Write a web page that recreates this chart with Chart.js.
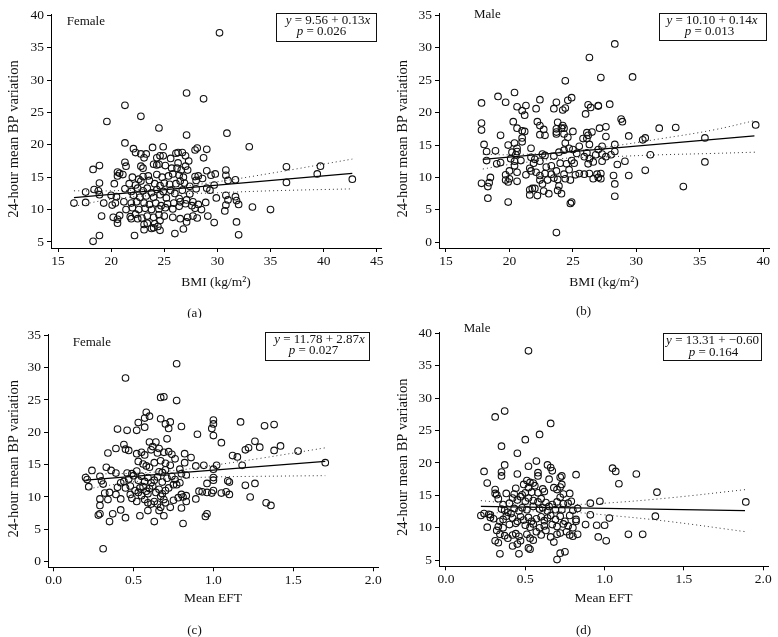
<!DOCTYPE html>
<html>
<head>
<meta charset="utf-8">
<script src="https://cdn.jsdelivr.net/npm/chart.js"></script>
<style>
  body { margin: 0; background: #fff; }
  #wrap { position: relative; width: 778px; height: 637px; }
  canvas { position: absolute; }
</style>
</head>
<body>
<div id="wrap">
  <canvas id="chartA" width="389" height="318" style="left:0;top:0"></canvas>
  <canvas id="chartB" width="389" height="318" style="left:389px;top:0"></canvas>
  <canvas id="chartC" width="389" height="319" style="left:0;top:318px"></canvas>
  <canvas id="chartD" width="389" height="319" style="left:389px;top:318px"></canvas>
</div>
<script>
// 축 눈금
const bmiTicksA = [15, 20, 25, 30, 35, 40, 45];
const bmiTicksB = [15, 20, 25, 30, 35, 40];
const eftTicks = [0, 0.5, 1.0, 1.5, 2.0];
const bpTicks5to40 = [5, 10, 15, 20, 25, 30, 35, 40];
const bpTicks0to35 = [0, 5, 10, 15, 20, 25, 30, 35];

// (a) Female, BMI
const femaleBmiPoints = [
  [30.2,37.3],[27.1,28.0],[28.7,27.1],[21.3,26.1],[22.8,24.4],[19.6,23.6],[24.5,22.6],[27.1,21.5],[30.9,21.8],[21.3,20.3],
  [33.0,19.7],[24.9,19.7],[23.9,19.6],[22.1,19.4],[28.1,19.5],[29.0,19.3],[27.9,19.2],
  [22.3,18.8],[22.8,18.6],[23.3,18.6],[23.1,18.0],[24.3,18.0],[24.6,18.3],[24.9,18.3],[26.1,18.7],[26.3,18.8],[26.7,18.8],
  [27.0,18.3],[28.7,18.0],[25.6,17.9],[26.3,17.2],[27.3,17.5],
  [21.3,17.3],[21.4,16.7],[18.3,16.2],[18.9,16.8],[22.8,16.7],[23.0,16.4],[24.0,17.0],[24.3,16.9],[24.5,17.0],[25.1,16.8],
  [25.7,16.4],[26.2,16.4],[26.6,16.1],[27.0,16.7],[27.2,16.1],[29.0,16.0],[30.8,16.1],[36.5,16.6],[39.7,16.7],
  [20.6,15.8],[20.8,15.6],[21.1,15.4],[20.6,15.2],[22.0,15.0],[22.6,14.7],[23.0,15.1],[23.5,15.2],[24.3,15.4],[24.8,15.0],
  [25.4,15.2],[25.8,15.5],[26.4,15.3],[26.8,15.0],[27.9,15.1],[28.2,15.2],[28.6,14.8],[29.4,15.3],[29.8,15.5],[30.8,15.3],
  [31.0,14.5],[31.7,14.6],[36.5,14.2],[39.4,15.5],[42.7,14.7],[28.0,14.5],
  [18.9,14.1],[20.3,14.0],[21.7,14.0],[22.3,13.8],[22.8,14.4],[23.6,14.5],[24.1,14.0],[24.6,13.7],[25.0,14.1],[25.5,13.9],
  [26.1,14.0],[26.5,14.4],[26.9,14.1],[27.4,13.6],[28.0,13.2],[29.0,13.3],[29.3,13.0],[29.7,13.8],[18.4,13.1],[18.8,12.9],
  [17.6,12.7],[20.0,12.2],[21.3,13.2],[21.9,12.8],[22.5,13.3],[23.0,12.9],[23.4,13.3],[23.8,12.6],[24.3,13.1],[24.9,12.8],
  [25.6,13.0],[26.0,12.5],[26.7,13.0],[27.4,12.4],[18.9,12.3],[20.5,12.0],[22.1,12.2],[22.7,11.9],[23.3,12.1],[24.0,11.9],
  [24.6,12.3],[25.2,11.8],[26.4,11.7],[27.1,11.5],[27.7,11.2],[30.8,12.2],[31.7,12.0],[31.8,11.4],[31.0,11.5],[29.9,11.8],
  [16.5,11.0],[17.6,11.1],[19.3,11.0],[20.4,11.0],[21.2,11.2],[21.9,11.0],[22.4,11.2],[23.1,11.0],[23.6,10.8],[24.2,11.0],
  [24.7,10.6],[25.3,10.9],[25.9,11.0],[26.5,11.2],[27.0,10.9],[27.6,10.6],[28.2,10.8],[28.9,11.1],[30.8,10.7],[32.0,10.8],
  [33.3,10.4],[35.0,10.0],[21.4,10.0],[22.0,10.3],[22.6,10.0],[23.2,10.2],[23.8,10.0],[24.5,10.1],[25.1,10.3],[25.8,10.1],
  [26.4,10.5],[27.9,10.2],[28.5,10.0],[30.7,9.8],[20.1,10.7],
  [19.1,9.0],[20.2,8.8],[20.8,9.1],[21.8,8.9],[22.3,9.3],[22.9,8.7],[23.4,9.0],[24.0,8.8],[24.5,9.2],[25.0,9.0],
  [25.8,8.8],[26.5,8.6],[27.2,8.8],[27.7,9.0],[28.1,8.7],[29.1,9.0],[20.6,8.5],[22.5,8.6],[24.6,8.3],[21.9,8.6],
  [20.6,7.9],[23.4,7.9],[23.1,7.7],[24.1,7.8],[24.4,7.4],[24.0,7.2],[24.6,6.8],[23.1,6.9],[26.8,7.0],[27.1,8.1],
  [29.7,8.0],[31.8,8.1],[22.2,6.0],[26.0,6.3],[32.0,6.1],[18.9,6.0],[18.3,5.1],[23.8,7.1]
];
const femaleBmiFitX = [16.5, 42.7];
const femaleBmiFitY = [11.85, 15.6];
const femaleBmiBandX = [16.5, 20, 25, 30, 35, 42.7];
const femaleBmiUpper = [12.9, 12.9, 13.3, 14.3, 15.6, 17.8];
const femaleBmiLower = [10.5, 11.6, 12.3, 12.6, 12.9, 13.2];

// (b) Male, BMI
const maleBmiPoints = [
  [28.3,30.6],[26.3,28.5],[27.2,25.4],[29.7,25.5],[24.4,24.9],[20.4,23.1],[19.1,22.5],[22.4,22.0],[24.9,22.3],[24.6,21.9],
  [23.7,21.6],[19.7,21.6],[17.8,21.5],[26.2,21.2],[27.0,21.1],[27.0,21.0],[27.9,21.3],[21.3,21.1],[20.6,20.9],[22.1,20.6],
  [23.5,20.6],[24.2,20.4],[24.4,20.7],[26.4,20.8],[21.0,20.3],[21.2,19.6],[26.0,19.8],
  [17.8,18.4],[17.8,17.3],[20.3,18.6],[22.2,18.6],[22.4,18.0],[23.8,18.5],[24.2,18.0],[24.1,17.6],[24.3,17.6],[20.6,17.6],
  [21.0,17.2],[21.2,17.1],[22.7,17.4],[23.7,17.5],[23.7,17.0],[25.0,17.1],[26.1,16.9],[26.5,17.0],[27.1,17.6],[27.6,17.8],
  [28.8,19.0],[28.9,18.6],[31.8,17.6],[33.1,17.7],[39.4,18.1],
  [19.3,16.5],[21.0,16.1],[22.4,16.6],[22.8,16.5],[23.7,16.7],[24.3,16.7],[24.6,16.2],[25.8,16.0],[26.1,16.0],[26.2,16.5],
  [27.6,16.3],[29.4,16.4],[30.5,15.8],[30.7,16.1],[35.4,16.1],[18.0,15.1],[19.9,15.0],[20.4,15.3],[21.0,15.5],[24.4,15.3],
  [25.5,14.8],[26.3,15.1],[27.3,14.8],[28.3,15.1],[20.6,14.5],[21.7,14.5],
  [18.2,14.0],[18.9,14.1],[20.2,13.9],[20.6,14.0],[20.5,13.5],[21.7,13.1],[22.0,12.8],[22.6,13.6],[22.8,13.4],[23.5,13.3],
  [23.9,13.9],[24.3,14.2],[24.7,14.5],[25.0,14.3],[25.3,13.7],[25.9,13.2],[26.1,13.8],[26.3,12.9],[26.8,13.5],[27.0,14.3],
  [27.3,13.6],[27.6,13.2],[28.0,13.5],[28.3,14.0],[18.2,12.6],[19.0,12.1],[19.3,12.3],[20.1,12.9],[20.4,12.5],[20.9,12.6],
  [21.9,12.2],[22.4,12.5],[22.9,11.6],[23.3,11.8],[24.0,12.2],[24.5,12.1],[24.9,12.6],[25.1,12.2],[26.2,12.1],[26.6,12.4],
  [27.3,12.5],[28.5,12.0],[29.1,12.5],[31.1,13.5],[35.4,12.4],[20.4,11.8],[21.6,11.4],
  [20.0,11.0],[20.6,10.8],[21.3,10.4],[21.7,11.0],[22.1,10.8],[22.4,10.3],[22.8,10.6],[23.3,10.5],[23.7,11.0],[24.3,10.5],
  [24.7,11.2],[25.2,10.4],[25.5,10.6],[25.9,10.5],[26.3,10.6],[26.9,10.5],[27.0,10.0],[27.2,10.6],[28.2,10.3],[29.4,10.3],
  [30.7,11.1],[19.7,10.4],[19.7,9.6],[20.0,9.8],[18.5,10.0],[19.9,9.3],[20.6,9.4],
  [17.8,9.1],[18.4,9.2],[18.3,8.6],[21.8,8.3],[22.4,9.6],[22.6,9.0],[23.0,9.6],[23.5,9.9],[23.8,9.7],[24.4,9.8],
  [24.8,9.6],[26.6,9.8],[27.2,9.8],[28.3,9.0],[21.6,8.1],[22.0,8.3],[22.7,7.9],[23.1,7.5],[23.8,8.0],[24.1,7.5],
  [23.9,8.7],[28.3,7.1],[33.7,8.6],[21.6,7.3],[22.2,7.2],[18.3,6.8],[19.9,6.2],[24.8,6.0],[24.9,6.2],[23.7,1.5]
];
const maleBmiFitX = [17.9, 39.3];
const maleBmiFitY = [12.8, 16.4];
const maleBmiBandX = [17.9, 20, 24, 28, 32, 36, 39.4];
const maleBmiUpper = [13.6, 13.5, 13.9, 14.8, 16.0, 17.3, 18.8];
const maleBmiLower = [11.3, 12.0, 12.9, 13.2, 13.5, 13.7, 13.9];

// (c) Female, EFT
const femaleEftPoints = [
  [0.77,30.6],[0.45,28.4],[0.67,25.4],[0.69,25.5],[0.77,24.9],[0.58,23.1],[0.57,22.2],[0.60,22.5],[0.67,22.1],[0.73,21.6],
  [0.70,21.3],[0.53,21.5],[0.57,20.8],[0.72,20.6],[0.80,20.9],[0.99,20.6],[1.00,21.9],[1.00,21.3],[1.17,21.6],[1.32,21.0],
  [1.38,21.2],[0.40,20.5],[0.46,20.3],[0.52,20.3],[0.90,19.7],[1.00,19.5],
  [0.44,18.1],[0.45,17.4],[0.47,17.2],[0.39,17.5],[0.60,18.5],[0.62,17.8],[0.64,18.5],[0.66,17.5],[0.61,17.3],[0.69,16.9],
  [0.71,19.0],[0.72,17.0],[0.74,16.6],[0.76,15.9],[0.82,16.7],[0.86,16.1],[1.05,18.4],[1.20,17.3],[1.22,17.6],[1.26,18.6],
  [1.29,17.7],[1.38,17.2],[1.42,17.9],[1.53,17.1],[1.12,16.4],[1.15,16.2],[0.34,16.8],[0.52,16.7],[0.55,16.9],[0.57,16.5],
  [0.65,16.8],
  [0.53,15.5],[0.56,15.1],[0.60,14.6],[0.63,15.3],[0.67,15.6],[0.70,15.2],[0.73,14.9],[0.79,14.3],[0.82,15.3],[0.89,14.8],
  [0.94,14.9],[1.00,14.3],[1.02,14.9],[1.18,14.9],[1.70,15.3],[0.33,14.6],[0.24,14.1],[0.36,14.1],[0.39,13.7],[0.46,13.7],
  [0.49,13.6],[0.52,14.0],[0.58,14.8],[0.66,13.9],[0.68,13.8],[0.70,14.2],
  [0.20,13.0],[0.21,12.7],[0.29,13.2],[0.30,12.5],[0.31,12.0],[0.22,11.6],[0.42,12.2],[0.44,12.4],[0.47,12.8],[0.50,13.3],
  [0.53,12.6],[0.55,13.2],[0.57,12.4],[0.59,13.0],[0.61,12.2],[0.63,12.6],[0.65,13.1],[0.68,12.3],[0.71,12.9],[0.74,13.2],
  [0.76,12.7],[0.80,13.6],[0.83,13.4],[0.96,12.1],[1.00,13.0],[1.00,12.6],[1.09,12.5],[1.10,12.3],[1.26,12.1],[0.79,12.2],
  [0.75,11.9],
  [0.40,11.5],[0.45,11.4],[0.48,11.7],[0.51,11.0],[0.54,11.4],[0.56,11.6],[0.58,10.9],[0.60,11.3],[0.62,11.7],[0.64,10.7],
  [0.66,11.2],[0.68,10.5],[0.70,11.0],[0.72,11.4],[0.77,11.9],[0.80,10.4],[0.83,10.2],[0.91,10.9],[0.93,10.8],[0.96,10.7],
  [0.99,10.6],[1.00,11.0],[1.05,10.6],[1.08,10.8],[1.10,10.4],[1.20,11.8],[0.32,10.6],[0.35,10.7],[0.39,10.4],[0.48,10.4],
  [0.53,10.7],[0.55,10.2],[0.59,10.5],
  [0.29,9.7],[0.34,9.6],[0.42,9.7],[0.49,9.8],[0.52,9.3],[0.57,9.6],[0.59,9.1],[0.63,9.3],[0.65,8.9],[0.67,10.1],
  [0.69,9.6],[0.70,9.1],[0.75,9.5],[0.78,9.9],[0.81,10.0],[0.83,9.3],[0.89,9.7],[1.23,10.0],[0.29,8.7],[0.61,8.9],
  [0.67,8.4],[0.73,8.4],[0.80,8.3],[0.66,7.9],[0.59,7.9],[0.42,8.0],
  [0.28,7.2],[0.29,7.4],[0.37,7.4],[0.45,6.8],[0.54,7.1],[0.69,7.1],[0.35,6.2],[0.63,6.2],[0.81,5.9],[0.95,7.0],
  [0.96,7.4],[1.33,9.1],[1.36,8.7],[0.31,2.0]
];
const femaleEftFitX = [0.2, 1.7];
const femaleEftFitY = [12.6, 15.5];
const femaleEftBandX = [0.2, 0.4, 0.6, 0.8, 1.0, 1.3, 1.7];
const femaleEftUpper = [13.6, 13.6, 13.8, 14.2, 14.9, 16.0, 17.6];
const femaleEftLower = [11.2, 12.0, 12.6, 12.9, 13.1, 13.2, 13.3];

// (d) Male, EFT
const maleEftPoints = [
  [0.52,37.3],[0.37,28.0],[0.31,27.1],[0.66,26.1],[0.59,24.4],[0.50,23.6],[0.35,22.6],[0.45,21.5],[0.37,19.7],[0.52,19.5],
  [0.24,18.7],[0.35,18.6],[0.35,18.0],[0.45,18.3],[0.57,20.3],[0.58,18.5],[0.58,18.0],[0.64,19.7],[0.66,19.3],[0.67,18.8],
  [0.73,18.0],[0.72,17.8],[0.82,18.2],[1.05,19.2],[1.07,18.7],[1.20,18.3],[1.09,16.8],[1.33,15.5],[1.89,14.0],[0.26,16.9],
  [0.31,15.9],[0.31,15.3],[0.32,15.1],[0.38,15.3],[0.43,15.2],[0.44,16.1],[0.48,15.1],[0.50,15.4],[0.51,17.3],[0.53,17.0],
  [0.55,16.9],[0.56,16.5],[0.49,16.7],[0.52,16.2],[0.61,16.0],[0.62,15.6],[0.65,17.5],[0.68,16.2],[0.70,15.9],[0.72,16.3],
  [0.73,16.7],[0.74,15.2],[0.78,15.3],[0.54,15.5],[0.58,15.4],
  [0.33,14.5],[0.36,13.6],[0.40,13.8],[0.42,14.6],[0.45,14.3],[0.47,14.8],[0.50,14.1],[0.52,14.6],[0.55,14.2],[0.58,14.0],
  [0.60,14.5],[0.63,13.9],[0.65,13.3],[0.67,13.6],[0.70,14.0],[0.72,14.7],[0.74,13.7],[0.77,13.8],[0.79,14.1],[0.91,13.8],
  [0.97,14.1],[1.32,11.8],[0.35,12.9],[0.37,12.7],[0.39,12.4],[0.43,13.0],[0.46,12.6],[0.48,13.1],[0.51,12.8],[0.55,13.3],
  [0.59,12.9],[0.61,13.1],[0.64,12.6],[0.69,12.8],[0.73,12.8],[0.80,12.7],[0.83,13.0],
  [0.22,11.9],[0.24,12.2],[0.27,12.1],[0.28,11.6],[0.28,12.0],[0.30,11.4],[0.34,11.0],[0.36,11.3],[0.38,11.8],[0.41,12.2],
  [0.42,11.5],[0.45,11.0],[0.47,11.7],[0.49,11.2],[0.52,11.6],[0.54,11.0],[0.57,11.4],[0.60,11.7],[0.62,11.1],[0.64,11.5],
  [0.66,11.9],[0.69,11.3],[0.72,11.8],[0.75,11.0],[0.78,11.9],[0.82,11.3],[0.82,11.0],[0.91,12.0],[1.03,11.5],[0.26,10.1],
  [0.33,10.2],[0.36,10.0],[0.40,10.5],[0.44,10.7],[0.50,10.4],[0.53,10.1],[0.55,10.6],[0.59,10.0],[0.62,10.3],[0.67,10.5],
  [0.70,10.2],[0.74,10.6],[0.77,10.3],[0.80,10.0],[0.88,10.5],[0.95,10.4],[1.00,10.4],
  [0.32,9.6],[0.34,9.0],[0.37,8.8],[0.39,8.4],[0.42,8.9],[0.44,9.1],[0.46,8.7],[0.47,8.0],[0.51,9.0],[0.53,8.4],
  [0.55,8.1],[0.57,9.4],[0.60,8.9],[0.63,9.6],[0.66,8.6],[0.68,7.8],[0.70,9.0],[0.72,9.2],[0.76,9.4],[0.78,8.9],
  [0.80,8.7],[0.83,9.0],[0.96,8.6],[1.01,8.0],[1.15,9.0],[1.24,9.0],[0.31,8.0],[0.33,7.7],[0.42,7.2],[0.45,7.5],
  [0.34,6.0],[0.46,6.0],[0.52,6.9],[0.53,6.7],[0.72,6.1],[0.75,6.3],[0.70,5.1]
];
const maleEftFitX = [0.22, 1.885];
const maleEftFitY = [13.3, 12.66];
const maleEftBandX = [0.22, 0.4, 0.6, 0.8, 1.0, 1.4, 1.89];
const maleEftUpper = [14.2, 13.8, 13.6, 13.6, 13.8, 14.6, 15.9];
const maleEftLower = [12.0, 12.5, 12.6, 12.4, 12.0, 11.0, 9.4];

const serif = '"Liberation Serif", "DejaVu Serif", serif';
const ink = '#111';
const yTitle = '24-hour mean BP variation';

// 이탤릭 구간은 *로 감싼다
function drawRich(ctx, str, cx, cy) {
    const parts = str.split('*');
    const fonts = parts.map((p, i) => (i % 2 ? 'italic ' : '') + '13px ' + serif);
    let total = 0;
    const widths = parts.map((p, i) => { ctx.font = fonts[i]; const w = ctx.measureText(p).width; total += w; return w; });
    let x = cx - total / 2;
    ctx.textAlign = 'left';
    parts.forEach((p, i) => { ctx.font = fonts[i]; ctx.fillText(p, x, cy); x += widths[i]; });
}

const panelText = {
    id: 'panelText',
    afterDraw(chart, args, o) {
        const ctx = chart.ctx;
        const area = chart.chartArea;
        ctx.save();
        ctx.fillStyle = ink;
        ctx.strokeStyle = ink;
        ctx.lineWidth = 1;
        ctx.textBaseline = 'middle';
        ctx.font = '13px ' + serif;
        ctx.textAlign = 'left';
        ctx.fillText(o.label, o.labelX, o.labelY);
        const [l, t, r, b] = o.box;
        ctx.strokeRect(Math.round(l) + 0.5, Math.round(t) + 0.5, Math.round(r - l), Math.round(b - t));
        o.eq.forEach((s, i) => drawRich(ctx, s, o.eqX[i], o.eqY[i]));
        ctx.font = '13px ' + serif;
        ctx.textAlign = 'center';
        ctx.fillText(o.caption, chart.width / 2, o.captionY);
        // y축 제목
        ctx.save();
        ctx.translate(14.5, (area.top + area.bottom) / 2 + 8);
        ctx.rotate(-Math.PI / 2);
        ctx.font = '14.5px ' + serif;
        ctx.fillText(yTitle, 0, 0);
        ctx.restore();
        ctx.restore();
    }
};

function toXY(xs, ys) {
    return xs.map((x, i) => ({ x: x, y: ys[i] }));
}

function makePanel(id, p) {
    const tickFont = { family: serif, size: 13.5 };
    new Chart(document.getElementById(id), {
        type: 'scatter',
        data: {
            datasets: [
                {
                    data: p.points.map(d => ({ x: d[0], y: d[1] })),
                    pointRadius: 3.3, pointHoverRadius: 3.3, pointBorderWidth: 1.1,
                    borderColor: '#111', backgroundColor: 'rgba(0,0,0,0)'
                },
                {
                    data: toXY(p.fitX, p.fitY), showLine: true, pointRadius: 0,
                    borderColor: '#000', borderWidth: 1.2
                },
                {
                    data: toXY(p.bandX, p.upper), showLine: true, pointRadius: 0, tension: 0.4,
                    borderColor: '#333', borderWidth: 1, borderDash: [1, 3]
                },
                {
                    data: toXY(p.bandX, p.lower), showLine: true, pointRadius: 0, tension: 0.4,
                    borderColor: '#333', borderWidth: 1, borderDash: [1, 3]
                }
            ]
        },
        options: {
            responsive: false,
            animation: false,
            events: [],
            layout: { padding: { top: p.padTop, right: p.padRight, bottom: p.padBottom, left: 0 } },
            plugins: {
                legend: { display: false },
                tooltip: { enabled: false },
                panelText: p.text
            },
            scales: {
                x: {
                    type: 'linear', min: p.xMin, max: p.xMax,
                    afterBuildTicks: s => { s.ticks = p.xTicks.map(v => ({ value: v })); },
                    afterFit: s => { s.height = p.xHeight; },
                    ticks: { font: tickFont, color: ink, padding: 1, maxRotation: 0, autoSkip: false, callback: p.xFmt },
                    grid: { drawOnChartArea: false, drawTicks: true, tickLength: 4, color: '#000' },
                    border: { color: '#000', width: 1 },
                    title: { display: true, text: p.xTitle, color: ink, font: { family: serif, size: 13.5 }, padding: 0 }
                },
                y: {
                    type: 'linear', min: p.yMin, max: p.yMax,
                    afterBuildTicks: s => { s.ticks = p.yTicks.map(v => ({ value: v })); },
                    afterFit: s => { s.width = p.yWidth; },
                    ticks: { font: tickFont, color: ink, padding: 3, autoSkip: false },
                    grid: { drawOnChartArea: false, drawTicks: true, tickLength: 4, color: '#000' },
                    border: { color: '#000', width: 1 },
                    title: { display: false }
                }
            }
        },
        plugins: [panelText]
    });
}

const fmtPlain = v => String(v);
const fmtOne = v => v.toFixed(1);

makePanel('chartA', {
    points: femaleBmiPoints, fitX: femaleBmiFitX, fitY: femaleBmiFitY,
    bandX: femaleBmiBandX, upper: femaleBmiUpper, lower: femaleBmiLower,
    xMin: 14.34, xMax: 45.4, yMin: 4.07, yMax: 40.2,
    xTicks: bmiTicksA, yTicks: bpTicks5to40, xFmt: fmtPlain, xTitle: 'BMI (kg/m²)',
    padTop: 14, padRight: 8, padBottom: 27, xHeight: 43, yWidth: 51,
    text: { label: 'Female', labelX: 66.7, labelY: 21.7, box: [276, 12.5, 375.5, 40.5],
            eq: ['*y* = 9.56 + 0.13*x*', '*p* = 0.026'], eqX: [328, 321.5], eqY: [21, 31.7],
            caption: '(a)', captionY: 314 }
});

makePanel('chartB', {
    points: maleBmiPoints, fitX: maleBmiFitX, fitY: maleBmiFitY,
    bandX: maleBmiBandX, upper: maleBmiUpper, lower: maleBmiLower,
    xMin: 14.45, xMax: 40.45, yMin: -0.88, yMax: 35.3,
    xTicks: bmiTicksB, yTicks: bpTicks0to35, xFmt: fmtPlain, xTitle: 'BMI (kg/m²)',
    padTop: 13.4, padRight: 9, padBottom: 27, xHeight: 43, yWidth: 50,
    text: { label: 'Male', labelX: 85, labelY: 15, box: [270, 13.3, 377, 40],
            eq: ['*y* = 10.10 + 0.14*x*', '*p* = 0.013'], eqX: [323, 320.5], eqY: [21, 32],
            caption: '(b)', captionY: 312 }
});

makePanel('chartC', {
    points: femaleEftPoints, fitX: femaleEftFitX, fitY: femaleEftFitY,
    bandX: femaleEftBandX, upper: femaleEftUpper, lower: femaleEftLower,
    xMin: -0.035, xMax: 2.03, yMin: -0.87, yMax: 35.2,
    xTicks: eftTicks, yTicks: bpTicks0to35, xFmt: fmtOne, xTitle: 'Mean EFT',
    padTop: 16, padRight: 11, padBottom: 30.2, xHeight: 39.5, yWidth: 48,
    text: { label: 'Female', labelX: 72.7, labelY: 25, box: [265, 14.3, 369.3, 42],
            eq: ['*y* = 11.78 + 2.87*x*', '*p* = 0.027'], eqX: [319.5, 313.5], eqY: [22, 32.7],
            caption: '(c)', captionY: 312.7 }
});

makePanel('chartD', {
    points: maleEftPoints, fitX: maleEftFitX, fitY: maleEftFitY,
    bandX: maleEftBandX, upper: maleEftUpper, lower: maleEftLower,
    xMin: -0.044, xMax: 2.03, yMin: 4.07, yMax: 40.2,
    xTicks: eftTicks, yTicks: bpTicks5to40, xFmt: fmtOne, xTitle: 'Mean EFT',
    padTop: 14, padRight: 10, padBottom: 30.2, xHeight: 40.5, yWidth: 50,
    text: { label: 'Male', labelX: 74.7, labelY: 11, box: [273.7, 14.7, 372, 42],
            eq: ['*y* = 13.31 + \u22120.60', '*p* = 0.164'], eqX: [323.5, 324.5], eqY: [22.7, 34.3],
            caption: '(d)', captionY: 312.7 }
});
</script>
</body>
</html>
